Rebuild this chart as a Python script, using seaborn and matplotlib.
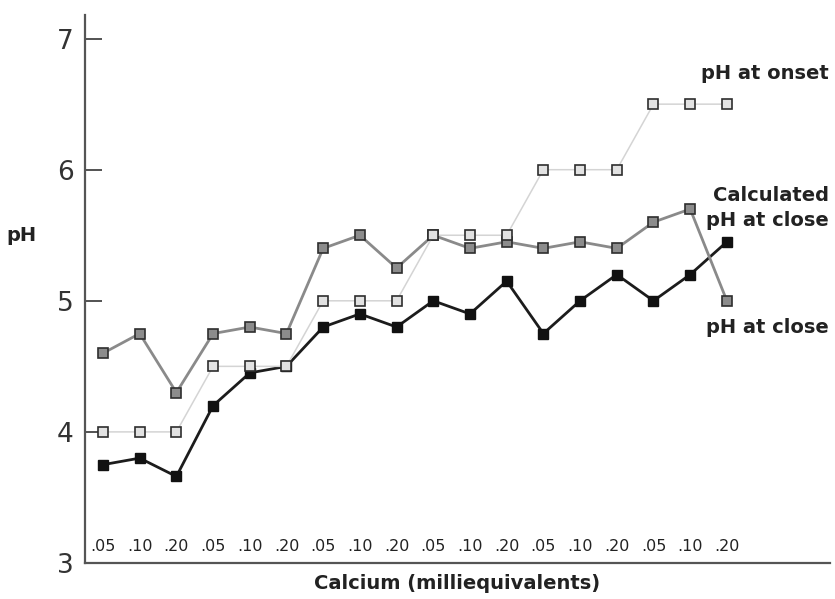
import numpy as np
import pandas as pd
import matplotlib
matplotlib.use("Agg")
import matplotlib.pyplot as plt
import seaborn as sns

# calcium levels, three per group, six groups
calcium_labels = [".05", ".10", ".20"] * 6
positions = np.arange(len(calcium_labels))

ph_onset = [4.0, 4.0, 4.0, 4.5, 4.5, 4.5, 5.0, 5.0, 5.0,
            5.5, 5.5, 5.5, 6.0, 6.0, 6.0, 6.5, 6.5, 6.5]
ph_calc_close = [4.6, 4.75, 4.3, 4.75, 4.8, 4.75, 5.4, 5.5, 5.25,
                 5.5, 5.4, 5.45, 5.4, 5.45, 5.4, 5.6, 5.7, 5.0]
ph_close = [3.75, 3.8, 3.66, 4.2, 4.45, 4.5, 4.8, 4.9, 4.8,
            5.0, 4.9, 5.15, 4.75, 5.0, 5.2, 5.0, 5.2, 5.45]

sns.set_style("white")
plt.rcParams["font.family"] = ["DejaVu Sans"]

df = pd.DataFrame({"pos": positions, "onset": ph_onset,
                   "calc": ph_calc_close, "close": ph_close})

fig = plt.figure(figsize=(8.35, 5.99), dpi=100)
ax = fig.add_axes([85 / 835, 1 - 563 / 599, 745 / 835, 548 / 599])

# pH at close (black)
sns.lineplot(data=df, x="pos", y="close", ax=ax, color="#1c1c1c", linewidth=2,
             marker="s", markersize=7.5, markerfacecolor="#111111",
             markeredgecolor="#111111", markeredgewidth=1, zorder=3)
# calculated pH at close (mid grey)
sns.lineplot(data=df, x="pos", y="calc", ax=ax, color="#8a8a8a", linewidth=2,
             marker="s", markersize=7, markerfacecolor="#8c8c8c",
             markeredgecolor="#2e2e2e", markeredgewidth=1.2, zorder=4)
# pH at onset (light)
sns.lineplot(data=df, x="pos", y="onset", ax=ax, color="#d4d4d4", linewidth=1.1,
             marker="s", markersize=7, markerfacecolor="#e2e2e2",
             markeredgecolor="#2e2e2e", markeredgewidth=1.2, zorder=5)

ax.set_xlim(-0.49, 19.81)
ax.set_ylim(3, 7.18)
ax.set_yticks([3, 4, 5, 6, 7])
ax.set_xticks(positions)
ax.set_xticklabels(calcium_labels)

ax.tick_params(axis="y", left=True, direction="in", length=12, width=1.3,
               color="#444444", labelsize=19, labelcolor="#333333", pad=8)
ax.tick_params(axis="x", bottom=False, length=0, pad=-17, labelsize=11.5,
               labelcolor="#222222")

for side in ["top", "right"]:
    ax.spines[side].set_visible(False)
for side in ["left", "bottom"]:
    ax.spines[side].set_color("#555555")
    ax.spines[side].set_linewidth(1.6)

ax.set_xlabel("Calcium (milliequivalents)", fontsize=14, fontweight="bold",
              color="#222222", labelpad=8)
ax.set_ylabel("pH", fontsize=14, fontweight="bold", color="#222222",
              rotation=0, labelpad=0)
ax.yaxis.set_label_coords(-0.085, 0.58)

ax.text(0.998, 0.894, "pH at onset", transform=ax.transAxes, ha="right",
        va="center", fontsize=14, fontweight="bold", color="#222222")
ax.text(0.998, 0.648, "Calculated\npH at close", transform=ax.transAxes,
        ha="right", va="center", fontsize=14, fontweight="bold",
        color="#222222", linespacing=1.35)
ax.text(0.998, 0.43, "pH at close", transform=ax.transAxes, ha="right",
        va="center", fontsize=14, fontweight="bold", color="#222222")

fig.savefig("out.png", dpi=100)
